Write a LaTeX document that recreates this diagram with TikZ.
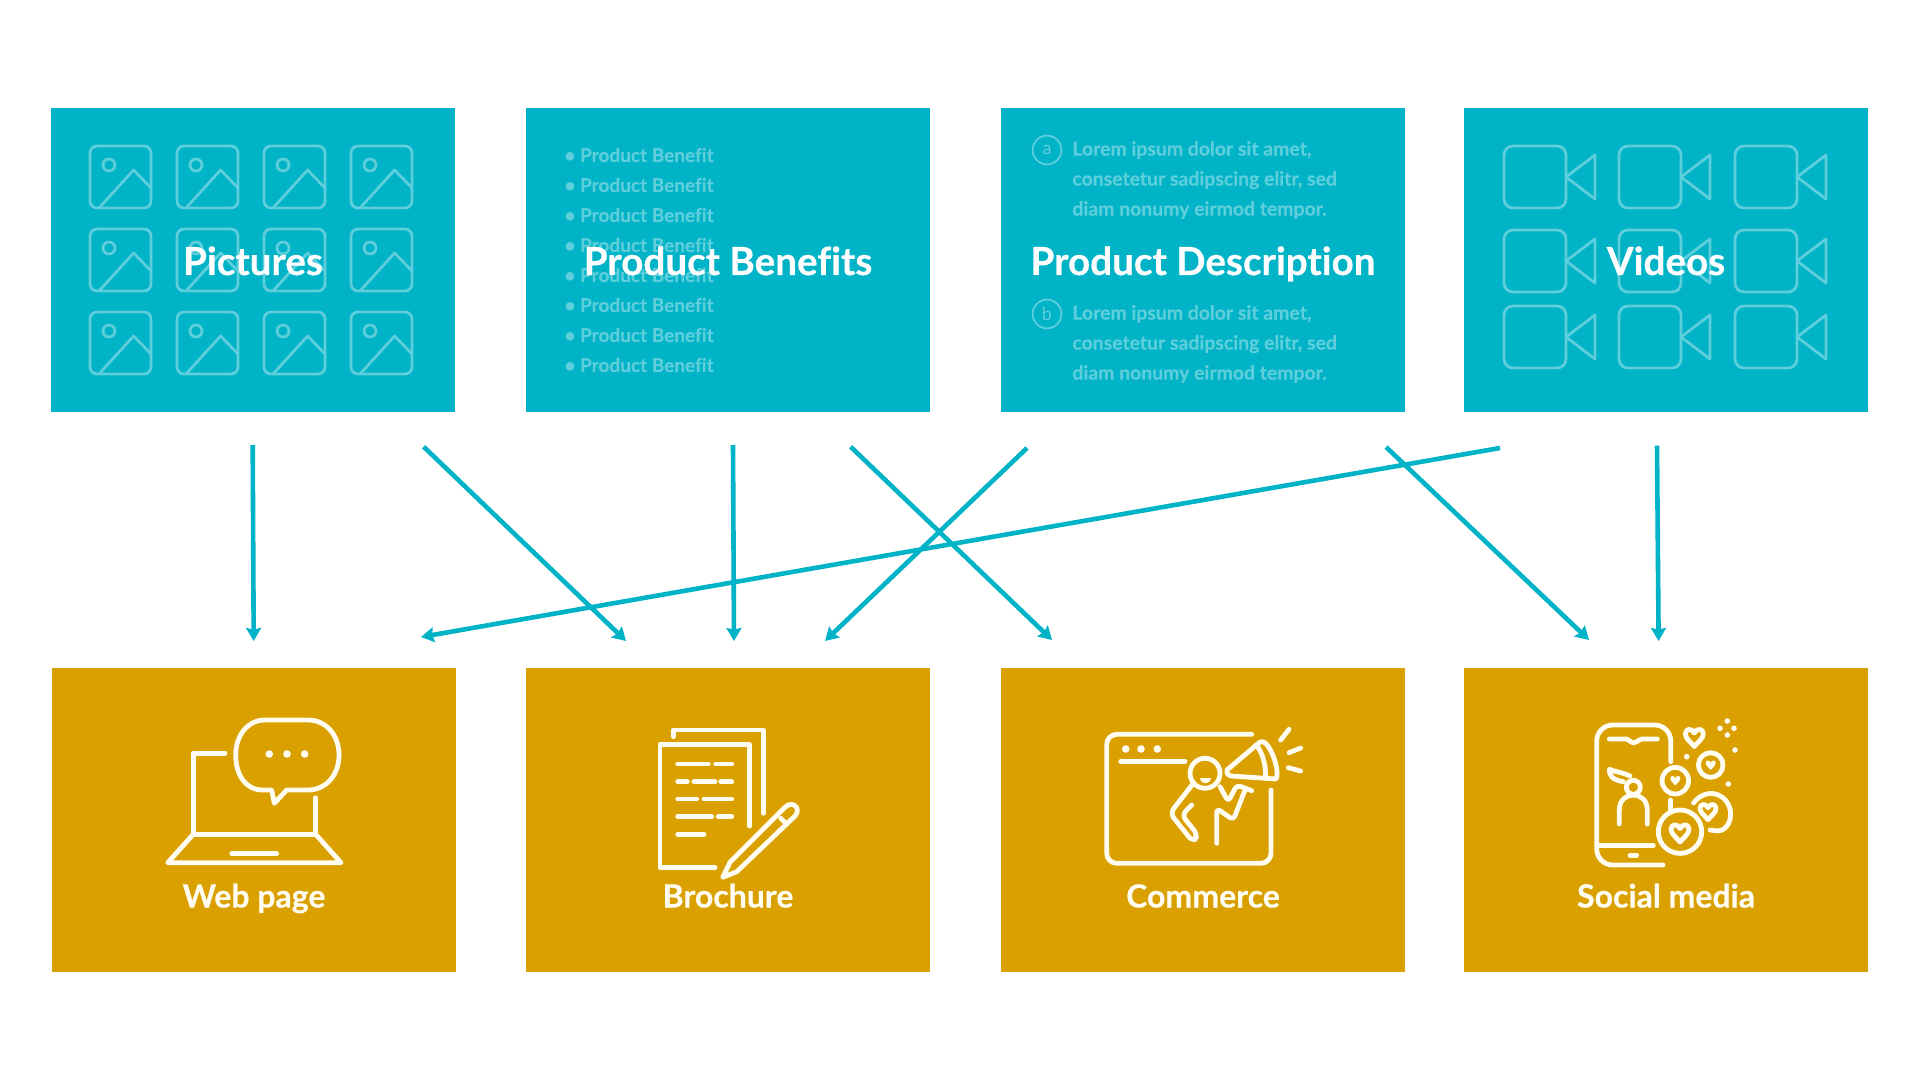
\documentclass[tikz,border=0pt]{standalone}
\usepackage{fontspec}
\setmainfont{Lato}[Ligatures=NoCommon, BoldFeatures={FakeBold=0.5}]
\usetikzlibrary{arrows.meta}
\definecolor{boxteal}{HTML}{00B3C6}
\definecolor{boxgold}{HTML}{D9A000}
\definecolor{faintteal}{HTML}{5DCEDC}
\definecolor{iconcream}{HTML}{FFFDF2}
\tikzset{
  tealbox/.style={fill=boxteal, minimum width=202pt, minimum height=152pt, inner sep=0pt},
  goldbox/.style={fill=boxgold, minimum width=202pt, minimum height=152pt, inner sep=0pt},
  headlabel/.style={text=white, anchor=base, font=\bfseries\fontsize{19.3}{22}\selectfont, inner sep=0pt},
  goldlabel/.style={text=iconcream, anchor=base, font=\bfseries\fontsize{16}{18}\selectfont, inner sep=0pt},
  faintlabel/.style={text=faintteal, font=\bfseries\fontsize{9.7}{15}\selectfont, align=left, anchor=west, inner sep=0pt},
  faintmark/.style={circle, draw=faintteal, line width=0.9pt, text=faintteal, minimum size=14.4pt, inner sep=0pt, font=\fontsize{9}{10}\selectfont},
  faintline/.style={draw=faintteal, line width=1.4pt, line join=round},
  goldline/.style={draw=iconcream, line width=2.4pt, line cap=round, line join=round},
  golddot/.style={fill=iconcream},
  arrowline/.style={draw=boxteal, line width=2.3pt, -{Stealth[length=6.5pt, width=7.5pt, inset=0.8pt]}},
  picon/.pic={
    \draw[faintline, rounded corners=3.5pt] (0,0) rectangle (61,62);
    \draw[faintline] (19,19) circle (6);
    \draw[faintline] (9,62) -- (43.6,24) -- (61,42);
  },
  vidicon/.pic={
    \draw[faintline, rounded corners=4.5pt] (0,0) rectangle (62,62);
    \draw[faintline] (62,31) -- (91,9) -- (91,53) -- cycle;
  },
  heartline/.pic={
    \draw[goldline] (0,-0.5) .. controls (-0.3,-1.1) and (-1,-1) .. (-1,-0.4) .. controls (-1,0.1) and (-0.4,0.5) .. (0,1) .. controls (0.4,0.5) and (1,0.1) .. (1,-0.4) .. controls (1,-1) and (0.3,-1.1) .. (0,-0.5) -- cycle;
  },
  heartfill/.pic={
    \fill[golddot] (0,-0.5) .. controls (-0.3,-1.1) and (-1,-1) .. (-1,-0.4) .. controls (-1,0.1) and (-0.4,0.5) .. (0,1) .. controls (0.4,0.5) and (1,0.1) .. (1,-0.4) .. controls (1,-1) and (0.3,-1.1) .. (0,-0.5) -- cycle;
  }
}
\begin{document}
\begin{tikzpicture}[x=0.5pt,y=-0.5pt]
\useasboundingbox (0,0) rectangle (1920,1080);
\fill[white] (0,0) rectangle (1920,1080);
\node[tealbox] (pictures) at (253,260) {};
\node[tealbox] (benefits) at (728,260) {};
\node[tealbox] (description) at (1203,260) {};
\node[tealbox] (videos) at (1666,260) {};
\node[goldbox] (webpage) at (254,820) {};
\node[goldbox] (brochure) at (728,820) {};
\node[goldbox] (commerce) at (1203,820) {};
\node[goldbox] (social) at (1666,820) {};
\pic at (90,146) {picon};
\pic at (177,146) {picon};
\pic at (264,146) {picon};
\pic at (351,146) {picon};
\pic at (90,229) {picon};
\pic at (177,229) {picon};
\pic at (264,229) {picon};
\pic at (351,229) {picon};
\pic at (90,312) {picon};
\pic at (177,312) {picon};
\pic at (264,312) {picon};
\pic at (351,312) {picon};
\node[faintlabel, font=\bfseries\fontsize{9.5}{15}\selectfont] (benefitlist) at (564,260) {• Product Benefit\\• Product Benefit\\• Product Benefit\\• Product Benefit\\• Product Benefit\\• Product Benefit\\• Product Benefit\\• Product Benefit};
\node[faintmark] (marka) at (1047,150) {a};
\node[faintlabel] (lorema) at (1072,180) {Lorem ipsum dolor sit amet,\\consetetur sadipscing elitr, sed\\diam nonumy eirmod tempor.};
\node[faintmark] (markb) at (1047,314) {b};
\node[faintlabel] (loremb) at (1072,344) {Lorem ipsum dolor sit amet,\\consetetur sadipscing elitr, sed\\diam nonumy eirmod tempor.};
\pic at (1504,146) {vidicon};
\pic at (1619,146) {vidicon};
\pic at (1735,146) {vidicon};
\pic at (1504,230) {vidicon};
\pic at (1619,230) {vidicon};
\pic at (1735,230) {vidicon};
\pic at (1504,306) {vidicon};
\pic at (1619,306) {vidicon};
\pic at (1735,306) {vidicon};
\node[headlabel] (pictureslabel) at (253,275) {Pictures};
\node[headlabel] (benefitslabel) at (728,275) {Product Benefits};
\node[headlabel] (descriptionlabel) at (1203,275) {Product Description};
\node[headlabel] (videoslabel) at (1666,275) {Videos};
\draw[goldline] (225,753.3) -- (193.3,753.3) -- (193.3,834.3) -- (315.7,834.3) -- (315.7,797.7);
\draw[goldline] (193.3,834.3) -- (167.7,862.7) -- (341,862.7) -- (315.7,834.3);
\draw[goldline] (231.7,853.7) -- (276.7,853.7);
\draw[goldline] (271.7,790) -- (262,790) .. controls (246,790) and (235.7,775) .. (235.7,755) .. controls (235.7,735) and (248,720) .. (265,720) -- (308,720) .. controls (326,720) and (339,735) .. (339,755) .. controls (339,775) and (326,790) .. (308,790) -- (286.7,790) -- (274.3,803.3) -- cycle;
\fill[golddot] (269.3,754) circle (3.8);
\fill[golddot] (287,754) circle (3.8);
\fill[golddot] (304.7,754) circle (3.8);
\node[goldlabel] (webpagelabel) at (254,907.5) {Web page};
\draw[goldline] (673.3,736.7) -- (673.3,730) -- (763.3,730) -- (763.3,813.3);
\draw[goldline] (749.3,826) -- (749.3,744.7) -- (660,744.7) -- (660,867.7) -- (715,867.7);
\draw[goldline] (677.7,764) -- (708.3,764);
\draw[goldline] (715.7,764) -- (731.7,764);
\draw[goldline] (677.7,781.7) -- (687.3,781.7);
\draw[goldline] (694,781.7) -- (715,781.7);
\draw[goldline] (720.7,781.7) -- (731.7,781.7);
\draw[goldline] (677.7,799) -- (696.7,799);
\draw[goldline] (704,799) -- (731.7,799);
\draw[goldline] (677.7,816.7) -- (711.7,816.7);
\draw[goldline] (718.3,816.7) -- (731.7,816.7);
\draw[goldline] (677.7,834.3) -- (704,834.3);
\draw[goldline] (722.7,877.3) -- (730,862.3) -- (785,807.3) .. controls (792,800) and (802,808) .. (795,816) -- (736.7,871.7) -- cycle;
\draw[goldline] (780.7,818.3) -- (786.7,824);
\node[goldlabel] (brochurelabel) at (728,907.5) {Brochure};
\draw[goldline, rounded corners=5pt] (1251.7,734.3) -- (1106.7,734.3) -- (1106.7,863.3) -- (1271,863.3) -- (1271,790);
\fill[golddot] (1125.7,749) circle (3.8);
\fill[golddot] (1141,749) circle (3.8);
\fill[golddot] (1157.3,749) circle (3.8);
\draw[goldline] (1120.7,761.7) -- (1185,761.7);
\draw[goldline] (1205,773.3) circle (15);
\fill[golddot] (1200,778) .. controls (1201,785) and (1210,785) .. (1211,778) -- cycle;
\draw[goldline, rounded corners=3pt] (1192,785) -- (1170,813.3) -- (1193,842) -- (1198,835) -- (1181.7,815) -- (1191.7,805);
\draw[goldline, rounded corners=2pt] (1216.7,843.3) -- (1216.7,808.3) -- (1233.3,820) -- (1245.7,788.3);
\draw[goldline, rounded corners=2pt] (1220,786.7) -- (1228.3,801.7) -- (1236.7,785) -- (1251.7,790.7);
\draw[goldline] (1227,770) -- (1260,742) .. controls (1268,737) and (1281,770) .. (1276,779) -- (1231,776) .. controls (1227,775) and (1226,772) .. (1227,770);
\draw[goldline] (1256,745) .. controls (1263,752) and (1267,770) .. (1265,778);
\draw[goldline] (1280.7,740) -- (1289,729.3);
\draw[goldline] (1289,752.7) -- (1300.7,748);
\draw[goldline] (1288.3,767.7) -- (1300.7,771);
\node[goldlabel] (commercelabel) at (1203,907.5) {Commerce};
\draw[goldline, rounded corners=8pt] (1670.7,761.7) -- (1670.7,725) -- (1596.7,725) -- (1596.7,865) -- (1663,865);
\draw[goldline] (1670.7,800) -- (1670.7,811.7);
\draw[goldline] (1609.3,739) -- (1626.7,739) .. controls (1630,740) and (1631,743) .. (1633.5,743) .. controls (1636,743) and (1638,740) .. (1641.7,739) -- (1657.3,739);
\draw[goldline] (1598,845.7) -- (1653.3,845.7);
\draw[goldline] (1630,855.3) -- (1636.7,855.3);
\draw[goldline] (1633.3,787.3) circle (7);
\draw[goldline] (1619.3,824) -- (1619.3,810) .. controls (1619.3,790) and (1647.3,790) .. (1647.3,810) -- (1647.3,824);
\draw[goldline] (1623.3,781.7) .. controls (1612,780) and (1609,775) .. (1609.3,769.3) .. controls (1615,772) and (1622,772) .. (1630,776);
\draw[goldline] (1675.3,780.7) circle (13.3);
\pic[scale=5] at (1675.3,780.5) {heartfill};
\draw[goldline] (1710.7,765) circle (12.3);
\pic[scale=5] at (1710.7,765) {heartfill};
\draw[goldline] (1680,831.7) circle (21.7);
\pic[scale=9] at (1680,833) {heartline};
\draw[goldline] (1693.5,803) .. controls (1700,794) and (1712,790) .. (1722,797) .. controls (1734,805) and (1733,825) .. (1722,830) .. controls (1718,832) and (1713,830) .. (1710,830);
\pic[scale=8] at (1708,811.7) {heartline};
\pic[scale=9] at (1694.3,737.5) {heartline};
\fill[golddot] (1727.3,721) circle (2.8);
\fill[golddot] (1720,728.3) circle (2.8);
\fill[golddot] (1734,728.3) circle (2.8);
\fill[golddot] (1727.3,735) circle (2.8);
\fill[golddot] (1735,750) circle (2.8);
\fill[golddot] (1686.7,756.7) circle (2.8);
\fill[golddot] (1728.3,784) circle (2.8);
\node[goldlabel] (sociallabel) at (1666,907.5) {Social media};
\coordinate (picout1) at (252.7,445);
\coordinate (picout2) at (423.6,446.7);
\coordinate (benefitout1) at (733,445);
\coordinate (benefitout2) at (850.6,446.7);
\coordinate (descout1) at (1027,448);
\coordinate (descout2) at (1386,447);
\coordinate (vidout1) at (1500,448);
\coordinate (vidout2) at (1657,445.7);
\coordinate (webin1) at (253.7,641);
\coordinate (webin2) at (421,637);
\coordinate (brochin1) at (626,641);
\coordinate (brochin2) at (734,641);
\coordinate (brochin3) at (825,641);
\coordinate (commercein) at (1052,640);
\coordinate (socialin1) at (1589,640);
\coordinate (socialin2) at (1658.6,641);
\draw[arrowline] (picout1) -- (webin1);
\draw[arrowline] (picout2) -- (brochin1);
\draw[arrowline] (benefitout1) -- (brochin2);
\draw[arrowline] (benefitout2) -- (commercein);
\draw[arrowline] (descout1) -- (brochin3);
\draw[arrowline] (descout2) -- (socialin1);
\draw[arrowline] (vidout1) -- (webin2);
\draw[arrowline] (vidout2) -- (socialin2);
\end{tikzpicture}
\end{document}
